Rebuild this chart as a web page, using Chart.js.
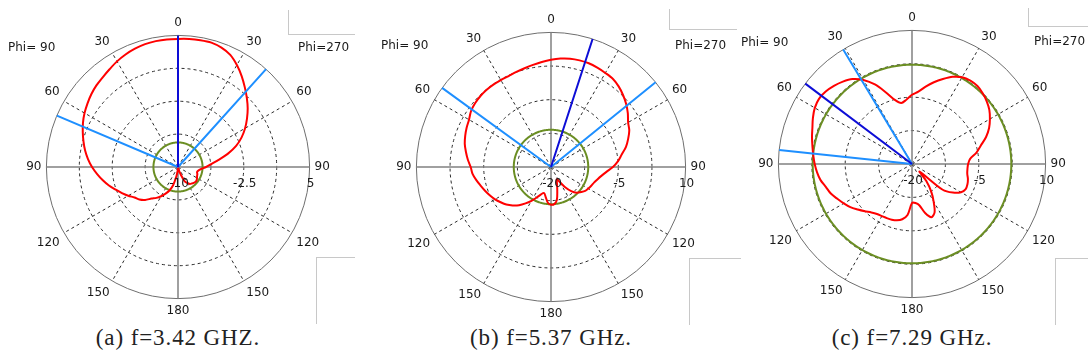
<!DOCTYPE html>
<html>
<head>
<meta charset="utf-8">
<title>Radiation patterns</title>
<script src="https://cdn.jsdelivr.net/npm/chart.js"></script>
<style>
  body { margin: 0; background: #fff; width: 1088px; height: 363px; position: relative; overflow: hidden; font-family: 'DejaVu Sans', sans-serif; }
  canvas { position: absolute; }
  .phi { position: absolute; font-size: 12px; line-height: 14px; color: #1a1a1a; white-space: pre; }
  .cap { position: absolute; top: 325px; width: 300px; text-align: center; font-family: 'Liberation Serif', serif; font-size: 23px; letter-spacing: 0.9px; color: #222; }
  .box { position: absolute; border: 0 solid #c8c8c8; }
</style>
</head>
<body>
<canvas id="polarA" width="350" height="303" style="left:3px;top:16px"></canvas>
<canvas id="polarB" width="354" height="309" style="left:374px;top:13px"></canvas>
<canvas id="polarC" width="354" height="306" style="left:735px;top:11px"></canvas>

<div class="phi" style="left:8px;top:40px">Phi= 90</div>
<div class="phi" style="left:298px;top:40px">Phi=270</div>
<div class="phi" style="left:381px;top:38px">Phi= 90</div>
<div class="phi" style="left:675px;top:38px">Phi=270</div>
<div class="phi" style="left:741px;top:35px">Phi= 90</div>
<div class="phi" style="left:1034px;top:34px">Phi=270</div>

<div class="box" style="left:288px;top:10px;width:66px;height:24px;border-left-width:1px;border-bottom-width:1px"></div>
<div class="box" style="left:316px;top:257px;width:38px;height:66px;border-left-width:1px;border-top-width:1px"></div>
<div class="box" style="left:669px;top:9px;width:67px;height:20px;border-left-width:1px;border-bottom-width:1px"></div>
<div class="box" style="left:689px;top:258px;width:51px;height:66px;border-left-width:1px;border-top-width:1px"></div>
<div class="box" style="left:1028px;top:8px;width:60px;height:18px;border-left-width:1px;border-bottom-width:1px"></div>
<div class="box" style="left:1055px;top:258px;width:33px;height:66px;border-left-width:1px;border-top-width:1px"></div>

<div class="cap" style="left:28px">(a) f=3.42 GHZ.</div>
<div class="cap" style="left:401px">(b) f=5.37 GHz.</div>
<div class="cap" style="left:762px">(c) f=7.29 GHz.</div>

<script>
// theta steps of the measured cuts (deg), same for every plot
const thetaDeg = [0, 5, 10, 15, 20, 25, 30, 35, 40, 45, 50, 55, 60, 65, 70, 75, 80, 85, 90,
  95, 100, 105, 110, 115, 120, 125, 130, 135, 140, 145, 150, 155, 160, 165, 170, 175, 180];

// gain in dB, Phi=270 cut (right half) and Phi=90 cut (left half)
const gainA270 = [4.6, 4.65, 4.68, 4.68, 4.48, 4.1, 3.42, 2.65, 1.85, 1.1, 0.37, -0.4, -1.17, -2.0, -2.95, -4.1, -5.3, -6.2, -6.8,
  -7.35, -7.65, -7.75, -7.65, -7.6, -7.5, -7.4, -7.38, -7.45, -7.55, -7.65, -7.9, -8.2, -9.1, -9.6, -9.9, -10, -10];
const gainA90 = [4.6, 4.6, 4.57, 4.5, 4.35, 4.15, 3.9, 3.6, 3.35, 3.15, 2.9, 2.6, 2.3, 1.95, 1.55, 1.15, 0.75, 0.3, -0.2,
  -0.75, -1.3, -1.85, -2.45, -2.95, -3.45, -3.95, -4.25, -4.7, -5.3, -5.7, -6.15, -6.65, -7.15, -7.85, -8.9, -9.6, -10];

const gainB270 = [3.9, 4.25, 4.5, 4.6, 4.6, 4.42, 4.2, 4.0, 3.45, 2.7, 1.87, 0.9, -0.15, -0.75, -1.7, -2.7, -4.0, -5.0, -6.2,
  -7.6, -8.6, -9.3, -9.8, -10.1, -10.4, -10.7, -11.3, -11.9, -13.0, -14.5, -16.2, -17.0, -16.1, -14.6, -12.5, -11.7, -11.6];
const gainB90 = [3.9, 3.5, 3.1, 2.78, 2.55, 2.36, 2.35, 2.4, 2.4, 2.3, 2.1, 1.75, 1.1, 0.75, 0.35, -0.1, -0.75, -1.4, -2.1,
  -2.45, -3.1, -3.8, -4.4, -5.0, -5.6, -6.3, -7.0, -7.9, -8.9, -10.1, -11.3, -12.5, -13.5, -14.0, -13.2, -12.0, -11.6];

const gainC270 = [-4.45, -3.7, -2.35, -1.0, 0.3, 1.6, 2.5, 2.85, 2.85, 2.45, 1.9, 1.2, 0.2, -0.9, -2.3, -4.0, -5.3, -6.9, -7.4,
  -7.5, -7.4, -7.0, -6.75, -6.7, -7.3, -8.8, -11.0, -17.6, -15.0, -12.5, -10.3, -8.0, -7.3, -8.6, -10.6, -11.2, -11.25];
const gainC90 = [-4.45, -5.5, -6.1, -5.1, -2.9, -0.3, 1.8, 3.3, 4.15, 4.8, 5.3, 5.5, 5.2, 4.55, 3.8, 3.25, 2.7, 2.25, 1.85,
  1.4, 0.85, 0.0, -0.6, -1.5, -2.3, -3.1, -4.1, -5.0, -5.8, -6.3, -6.5, -6.6, -6.7, -6.9, -7.4, -8.5, -11.25];

// green reference ring (dB)
const ringLevel = [-7.2, -11.7, 2.3];
// marker lines, angle clockwise from top (deg)
const mainBeam = [0, 18, 307];
const edgeBeams = [[42, 293], [51, 306], [329, 276]];

// radial axis
const rangeMin = [-10, -20, -20];
const rangeMax = [5, 10, 10];
const ringStep = [3.75, 7.5, 7.5];
const tickText = [[-10, -2.5, 5], [-20, -5, 10], [-20, -5, 10]];

const angleLabels = Array.from({ length: 360 }, (_, i) => i);

function patternData(right, left, min) {
  const out = new Array(360).fill(null);
  thetaDeg.forEach((t, i) => {
    out[t] = Math.max(right[i], min);
    if (t > 0 && t < 180) out[360 - t] = Math.max(left[i], min);
  });
  return out;
}

function beamData(deg, min, max) {
  const out = new Array(360).fill(null);
  out[deg] = max;
  out[(deg + 180) % 360] = min;
  return out;
}

// ring value labels under the horizontal axis
const ringLabels = {
  id: 'ringLabels',
  afterDraw(chart, args, opts) {
    const s = chart.scales.r;
    const ctx = chart.ctx;
    ctx.save();
    ctx.font = '12px "DejaVu Sans"';
    ctx.fillStyle = '#1a1a1a';
    ctx.textAlign = 'center';
    ctx.textBaseline = 'middle';
    opts.values.forEach(v => {
      ctx.fillText(String(v), s.xCenter + s.getDistanceFromCenterForValue(v) + 1, s.yCenter + 17);
    });
    ctx.restore();
  }
};

const lineBase = { pointRadius: 0, fill: false, spanGaps: true, borderWidth: 2, tension: 0 };

function makeChart(id, k, right, left) {
  const min = rangeMin[k];
  const max = rangeMax[k];
  const datasets = [
    { ...lineBase, data: beamData(mainBeam[k], min, max), borderColor: '#0d0dd6' },
    ...edgeBeams[k].map(d => ({ ...lineBase, data: beamData(d, min, max), borderColor: '#1e8fff' })),
    { ...lineBase, data: patternData(right, left, min), borderColor: '#ff0000', tension: 0.3 },
    { ...lineBase, data: angleLabels.map(() => ringLevel[k]), borderColor: '#6b8e23' }
  ];
  return new Chart(document.getElementById(id), {
    type: 'radar',
    data: { labels: angleLabels, datasets },
    options: {
      responsive: false,
      animation: false,
      events: [],
      devicePixelRatio: 1,
      plugins: {
        legend: { display: false },
        tooltip: { enabled: false },
        ringLabels: { values: tickText[k] }
      },
      scales: {
        r: {
          min, max,
          startAngle: 0,
          ticks: { display: false, stepSize: ringStep[k] },
          grid: {
            circular: true,
            lineWidth: 1,
            color: c => (c.tick && c.tick.value === max) ? '#6e6e6e' : '#2a2a2a'
          },
          border: { dash: c => (c.tick && c.tick.value === max) ? [] : [3, 3] },
          angleLines: {
            lineWidth: c => c.index % 90 === 0 ? 1.5 : (c.index % 30 === 0 ? 1 : 0),
            color: c => c.index % 90 === 0 ? '#808080' : '#2a2a2a',
            borderDash: c => c.index % 90 === 0 ? [] : [3, 3]
          },
          pointLabels: {
            padding: 5,
            color: '#1a1a1a',
            font: { family: 'DejaVu Sans', size: 12 },
            callback: (v, i) => i % 30 === 0 ? String(i <= 180 ? i : 360 - i) : ''
          }
        }
      }
    },
    plugins: [ringLabels]
  });
}

makeChart('polarA', 0, gainA270, gainA90);
makeChart('polarB', 1, gainB270, gainB90);
makeChart('polarC', 2, gainC270, gainC90);
</script>
</body>
</html>
